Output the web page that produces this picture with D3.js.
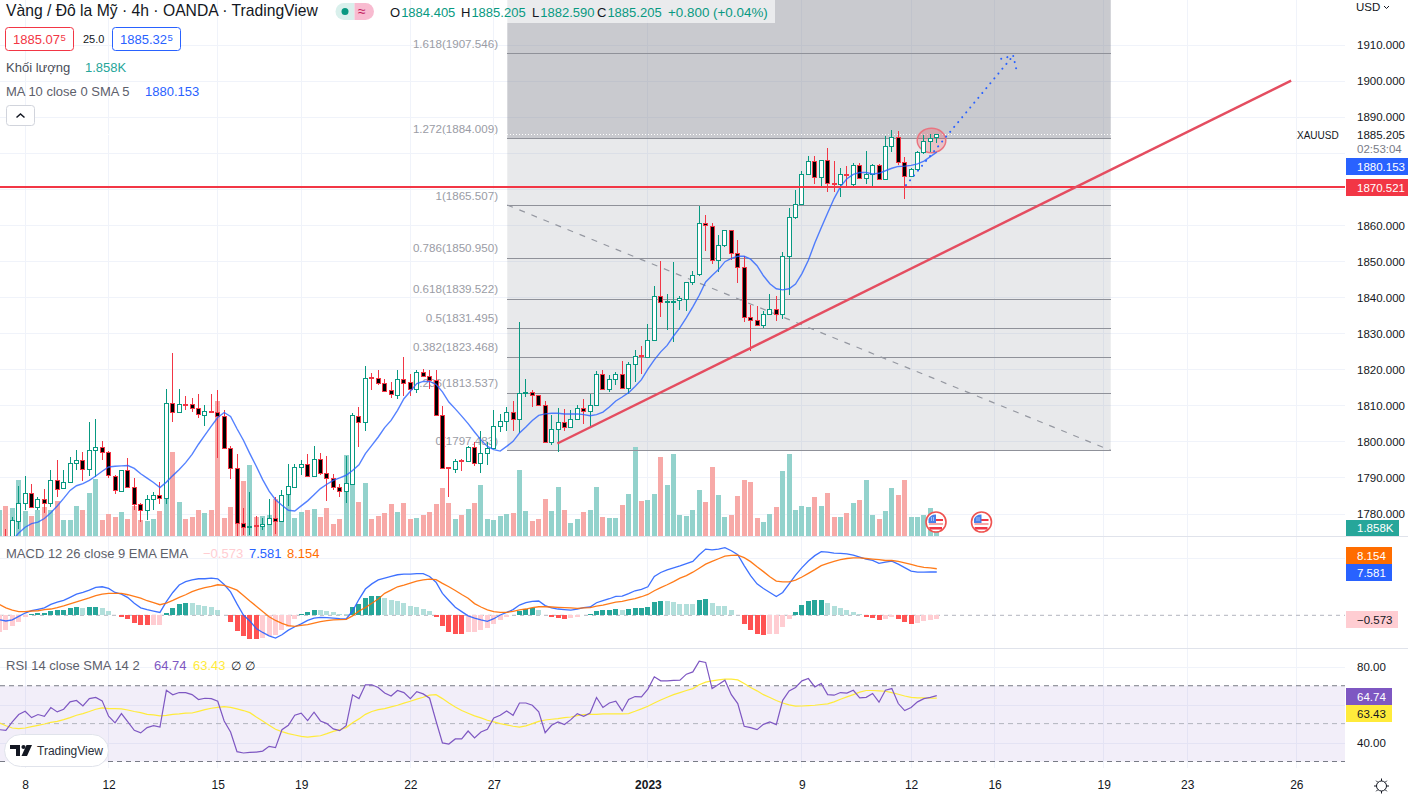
<!DOCTYPE html>
<html>
<head>
<meta charset="utf-8">
<title>XAUUSD 4h</title>
<script src="https://cdn.jsdelivr.net/npm/d3@7"></script>
<style>
  html, body { margin: 0; padding: 0; background: #fff; overflow: hidden; }
  svg { display: block; font-family: "Liberation Sans", Arial, sans-serif; }
  .axis text { fill: #131722; font-size: 11.5px; font-family: "Liberation Sans", Arial, sans-serif; }
  .time text { font-size: 12px; }
</style>
</head>
<body>
<div id="viz"></div>
<script>
// candles
const opens = [
  1771,1773,1773.5,1778.1,1783,1785.8,1781.8,1784.1,1782.9,1789.4,
  1786.9,1788.7,1794.1,1794.9,1792.4,1797.7,1798.5,1797,1790.5,1786.4,
  1792.1,1787.3,1782.7,1781,1784.1,1785.2,1784.4,1810.7,1808.1,1810.4,
  1810.4,1809.2,1807.4,1808.5,1808.2,1807.1,1798.2,1792.7,1777.4,1776.4,
  1776.7,1776.6,1777.2,1778.8,1778,1785.2,1787.5,1793,1793.8,1790.5,
  1795.2,1791.3,1789.9,1787.4,1786.2,1788.2,1807.1,1805.4,1817.7,1817.6,
  1816.2,1814.1,1812.9,1817.4,1816.4,1814.4,1819.2,1818.1,1816.9,1807.3,
  1792.8,1792.4,1794.8,1794.6,1798.5,1794.1,1796.8,1798.2,1804.3,1805.7,
  1808.2,1806.2,1813.4,1813.7,1812.8,1810.1,1799.9,1803.4,1805.3,1804,
  1806.3,1809.3,1808.4,1810.1,1818.7,1814.5,1817.4,1818.7,1814.8,1821.5,
  1823.8,1823.6,1828.2,1840.4,1838.6,1838.8,1839,1839.6,1844.3,1846.2,
  1860.4,1859.8,1850.4,1854.5,1858.7,1852.3,1848.4,1834.6,1833.7,1832.4,
  1835.4,1836.8,1835.4,1851.5,1862.1,1865.8,1874.1,1877.7,1873.2,1878,
  1871.7,1871.4,1874.1,1871.3,1876.6,1872.9,1874.1,1876.6,1872.8,1881.9,
  1884.4,1877.4,1873.5,1875.5,1880.2,1883.3,1884.405];
const highs = [
  1773,1775.8,1779,1787.5,1790.3,1788.1,1784.6,1786.9,1792,1794.7,
  1792,1795.7,1797.5,1797,1805.5,1806.1,1800,1797.3,1790.6,1792.1,
  1795.4,1789.9,1783,1785,1786,1788.7,1814.4,1824.5,1814.4,1812.5,
  1812,1813,1810.2,1813,1814.1,1808.6,1798.6,1796.4,1781.5,1785.9,
  1779.2,1778.7,1783.9,1784.7,1786.4,1793.6,1793.8,1794.9,1796.6,1798.6,
  1796.9,1795.8,1791,1788.1,1795.8,1807.8,1809.5,1821,1818.9,1819.7,
  1817.3,1816.4,1819.7,1823.5,1818.7,1819.7,1820.1,1819.7,1819.7,1809.7,
  1793,1795.2,1795,1798.8,1799.8,1803,1799.8,1808.8,1807.6,1809.5,
  1811.3,1833.2,1817.4,1814.3,1812.8,1811.3,1807.2,1809.3,1809,1808.6,
  1810,1811.8,1813.2,1819.5,1819.8,1818.3,1819.2,1822.2,1822,1825.2,
  1826.3,1832.4,1843,1849.9,1840.9,1849.6,1840.2,1844.3,1847.1,1865.3,
  1862.7,1860.6,1857.1,1858.7,1858.7,1855.7,1851.3,1837.9,1837.4,1836.1,
  1840.8,1840.4,1852.4,1864.8,1869.8,1875,1879.2,1879.2,1878.1,1881.4,
  1877.8,1875.8,1876.4,1877.2,1877.2,1880.6,1876.9,1877,1884.5,1886.4,
  1885.9,1878.8,1875.8,1880.6,1885,1885.2,1885.205];
const lows = [
  1768,1770,1770,1775.8,1780.9,1781.5,1781.1,1780.2,1781.8,1784.6,
  1786.7,1788.4,1792,1788.9,1790.3,1790.1,1794.7,1789.8,1785.3,1786,
  1787.3,1780.9,1777.6,1778.1,1781,1782.7,1782.5,1805.4,1807.9,1808.6,
  1808.1,1806.5,1804.2,1807.9,1795.4,1798,1789.6,1773,1774,1774,
  1773.5,1775.3,1776.7,1774.2,1777.6,1782,1787.3,1790.8,1790.1,1790.3,
  1790.8,1783.6,1786.4,1784.6,1783,1788,1798.4,1802.8,1814.1,1815.5,
  1813.7,1812,1811.6,1812.7,1812.5,1813.4,1818.1,1814.6,1806.9,1792.7,
  1784.7,1791.2,1791.8,1794.5,1793.1,1791.2,1793.4,1797.9,1802.6,1803,
  1803,1802.3,1812.3,1809.5,1810,1799.6,1798.9,1797,1802.8,1804,
  1806.2,1804.7,1804.1,1810,1814.1,1813.7,1815.5,1814.7,1813.2,1816.4,
  1818.6,1823.4,1828.2,1834.5,1831,1827.6,1836.3,1836.1,1843.3,1845.8,
  1852.7,1849.1,1847,1853.9,1850.4,1843.9,1833.1,1825.1,1831.9,1831.3,
  1835.4,1833.4,1834,1840.6,1861.7,1865.4,1874,1871.2,1870.3,1869,
  1869,1867.7,1870.4,1870.4,1872.8,1871.2,1870.6,1872.4,1872.5,1880.1,
  1876.5,1867.2,1873.4,1875.4,1879.7,1880.1,1882.59];
const closes = [
  1772,1772,1778.1,1783,1785.8,1782,1784.1,1783,1789.4,1786.9,
  1788.7,1794.1,1794.9,1792.4,1797.7,1798.5,1797.1,1790.6,1786.6,1792.1,
  1787.3,1782.7,1781,1784.1,1785.2,1784.4,1810.7,1808.1,1810.4,1810.2,
  1809.2,1807.4,1808.5,1808.1,1807.1,1798.2,1792.7,1777.4,1776.4,1776.6,
  1776.5,1777.2,1778.8,1778,1785.2,1787.5,1793,1793.8,1790.5,1795.2,
  1791.3,1789.9,1787.4,1786.2,1788.5,1807.2,1805.4,1817.6,1817.4,1816.2,
  1814.1,1812.9,1817.4,1816.4,1814.4,1819.2,1818.1,1816.9,1807.3,1792.7,
  1792.6,1794.6,1794.6,1798.5,1794.1,1796.8,1798.2,1804.3,1805.7,1808.2,
  1806.2,1813.5,1813.7,1812.8,1810.1,1799.9,1803.4,1805.3,1804,1806.3,
  1809.3,1808.4,1810.1,1818.7,1814.5,1817.4,1818.7,1814.8,1821.5,1823.6,
  1823.6,1828.2,1840.4,1838.7,1838.8,1839,1839.6,1844.3,1846.2,1860.4,
  1859.8,1850.4,1854.5,1858.7,1852.3,1848.4,1834.6,1833.7,1832.4,1835.4,
  1836.8,1835.4,1851.5,1862.3,1865.8,1874.1,1877.7,1873.2,1878,1871.6,
  1871.5,1874.1,1873.9,1876.6,1872.9,1874.1,1876.6,1872.8,1881.9,1884.4,
  1877.4,1873.5,1875.5,1880.2,1883.3,1884,1885.205];

// volume in thousands
const volumes = [
  6.0,7.0,6.5,13.0,5.8,4.6,6.0,6.7,6.0,8.1,
  3.7,3.7,7.0,6.0,10.0,13.2,3.7,5.1,4.4,5.6,
  3.9,7.0,3.7,3.5,3.9,5.8,9.9,19.5,7.9,3.9,
  4.4,6.0,5.3,6.0,31.3,4.2,6.7,11.5,12.8,16.5,
  4.4,4.6,4.9,8.6,6.3,9.8,4.2,5.6,6.0,6.3,
  4.4,6.5,2.8,3.9,18.8,14.6,7.9,12.3,3.9,4.6,
  5.3,7.4,5.6,7.7,3.9,4.2,4.9,5.6,7.4,11.1,
  7.7,3.9,4.9,6.3,7.7,11.8,3.9,3.7,4.6,5.1,
  5.3,15.3,5.8,3.5,3.9,8.6,5.8,11.4,6.0,3.0,
  3.9,5.6,6.0,11.4,4.4,4.2,4.2,7.2,9.8,20.7,
  8.1,8.4,9.8,18.3,11.8,19.0,4.9,4.6,6.0,10.7,
  7.9,16.0,9.5,4.4,4.9,9.3,13.0,12.5,4.2,3.3,
  5.1,6.7,15.1,19.0,6.0,7.0,6.7,9.1,7.0,10.0,
  4.4,4.4,5.3,7.7,8.4,13.0,4.9,3.9,5.8,11.1,
  9.5,13.0,4.4,4.4,4.9,6.5,1.858];

const maValues = [
  1768,1770,1772.5,1774.6,1776.2,1777.2,1777.6,1778.6,1780.2,1782.1,
  1784.2,1786.4,1787.7,1788.3,1789.2,1790.4,1791.7,1792.9,1793.1,1793.2,
  1793.3,1792.5,1791,1789.8,1788.6,1787.2,1788.7,1790.5,1792.2,1794.1,
  1796.4,1799.2,1801.7,1804.2,1806.6,1808,1806.9,1803.5,1800.3,1796.6,
  1793.1,1789.4,1786.2,1783.8,1782.3,1780.9,1780.7,1782.1,1783.5,1785.2,
  1786.9,1788.1,1789.2,1789.9,1790.6,1791.9,1793.5,1796.6,1798.9,1801.2,
  1803.8,1805.8,1808.6,1811.8,1813.9,1816,1816.6,1816.6,1815.8,1813.7,
  1810.9,1809,1807,1804.9,1802.6,1800.4,1798.6,1797.7,1797.3,1798.6,
  1800,1802.3,1804,1805.8,1807.2,1807.6,1807.8,1807.8,1807.6,1807.6,
  1807.6,1807.4,1807.1,1807.4,1808.1,1809.5,1811.2,1812.3,1813.5,1815.2,
  1817.1,1820,1822.6,1824.8,1826.6,1829.2,1831.5,1834.3,1837.3,1840.5,
  1844.2,1846,1847.6,1849.8,1850.7,1851.3,1851.3,1850.5,1848.7,1845.9,
  1843.7,1842.3,1842,1842.3,1843.6,1846.5,1850.2,1855,1859.2,1863.3,
  1867.3,1870.6,1872.8,1874,1874.5,1874.5,1874.1,1874.3,1875,1875.7,
  1876.2,1876.3,1876.5,1876.9,1877.7,1878.9,1880.153];

const macdLine = [
  -0.8,-1.0,-0.8,-0.2,0.4,0.8,1.05,1.3,1.9,2.3,
  2.6,3.15,3.7,4.0,4.4,4.9,5.0,4.7,4.0,3.7,
  3.1,2.1,1.3,1.0,0.75,0.5,2.4,4.0,5.3,5.9,
  6.2,6.4,6.4,6.5,6.4,5.4,4.1,2.0,0.05,-1.0,
  -2.3,-3.0,-3.6,-4.0,-3.4,-2.6,-2.0,-1.5,-0.9,-0.5,
  -0.35,-0.4,-0.5,-0.6,-0.65,0.75,2.8,4.6,5.5,6.2,
  6.5,6.8,7.1,7.2,7.2,7.3,7.3,6.8,5.8,3.85,
  2.6,1.4,0.65,-0.1,-0.5,-0.8,-1.05,-0.6,0.05,0.5,
  1.0,1.8,2.2,2.45,2.5,1.7,1.3,1.1,1.0,0.9,
  1.1,1.35,1.45,2.2,2.55,2.9,3.3,3.35,3.8,4.3,
  4.55,5.0,6.8,7.5,7.95,8.3,8.65,9.05,9.45,10.6,
  11.6,11.45,11.6,11.85,11.3,10.6,8.7,6.95,5.5,4.7,
  4.0,3.3,4.0,5.5,7.05,8.35,9.5,10.45,11.15,11.05,
  10.9,10.85,10.75,10.55,10.2,9.85,9.6,9.1,9.3,9.5,
  8.95,8.35,7.75,7.55,7.55,7.6,7.581];
const signalLine = [
  1.9,1.3,0.9,0.65,0.65,0.75,0.8,1.0,1.1,1.35,
  1.65,2.0,2.35,2.7,3.05,3.45,3.7,3.85,3.85,3.85,
  3.6,3.3,3.0,2.55,2.2,1.85,2.15,2.6,3.15,3.6,
  4.15,4.55,4.85,5.05,5.35,5.25,4.85,4.4,3.45,2.5,
  1.6,0.65,-0.25,-0.9,-1.4,-1.8,-1.95,-1.75,-1.65,-1.35,
  -1.1,-0.95,-0.8,-0.75,-0.7,-0.1,0.75,1.35,2.1,2.85,
  3.85,4.4,5.0,5.3,5.65,6.0,6.2,6.35,6.25,5.6,
  5.0,4.35,3.65,3.0,2.05,1.45,0.95,0.65,0.5,0.5,
  0.7,0.95,1.1,1.35,1.5,1.5,1.45,1.4,1.35,1.3,
  1.2,1.3,1.35,1.6,1.8,2.05,2.3,2.45,2.7,2.9,
  3.25,3.65,4.3,4.85,5.35,5.9,6.5,6.95,7.55,8.25,
  8.95,9.45,9.9,10.35,10.5,10.55,10.1,9.4,8.5,7.65,
  6.75,6.0,5.85,5.85,6.15,6.7,7.35,8.0,8.7,9.1,
  9.45,9.75,9.95,10.05,10.05,9.95,9.85,9.75,9.6,9.6,
  9.45,9.2,8.9,8.6,8.4,8.3,8.154];
const macdHist = [
  -2.85,-2.55,-1.85,-1.15,-0.3,0.2,0.4,0.45,0.8,0.95,
  1.0,1.35,1.45,1.35,1.45,1.5,1.3,0.75,0.05,-0.25,
  -0.65,-1.35,-1.7,-1.75,-1.65,-1.65,0.45,1.3,2.0,2.15,
  2.1,1.8,1.65,1.45,0.95,0.05,-1.15,-2.75,-3.7,-4.15,
  -4.2,-3.9,-3.55,-3.45,-2.5,-2.05,-0.65,0.25,0.6,0.95,
  0.95,0.7,0.6,0.25,0.25,1.45,2.05,3.05,3.4,3.45,
  3.05,2.7,2.5,2.15,1.65,1.45,1.1,0.75,-0.3,-1.85,
  -2.9,-3.25,-3.3,-3.0,-2.9,-2.55,-2.2,-1.45,-0.8,-0.3,
  0.05,0.7,1.1,1.2,0.95,0.05,-0.35,-0.45,-0.65,-0.45,
  -0.3,0.05,0.25,0.75,0.95,1.0,1.1,0.95,1.1,1.3,
  1.35,1.45,2.35,2.5,2.5,2.35,2.0,2.0,2.0,2.7,
  2.85,2.15,1.65,1.65,0.95,0.05,-1.5,-2.55,-3.25,-3.45,
  -3.25,-3.25,-2.05,-0.65,0.6,1.8,2.5,2.7,2.75,2.15,
  1.65,1.3,0.95,0.6,0.25,-0.3,-0.45,-0.8,-0.65,-0.25,
  -0.65,-1.15,-1.5,-1.35,-1.0,-0.8,-0.573];

const rsiLine = [
  46.8,46.5,50.9,54.8,56.5,53.2,54.8,53.9,58.5,56.2,
  57.6,61.5,62.2,59.3,63.2,63.8,62,53.9,50.4,55.3,
  50.9,46.5,45.1,47.9,48.9,48.2,67.6,65.2,66.4,66.4,
  65.3,62.7,63.4,63.2,61.8,51.4,45.6,35.2,34.5,34.8,
  35,35.5,38,37.3,46.8,49.1,54.4,55.5,51.6,56,
  51.4,50,47.2,46.3,48.9,65.2,63.2,70.5,70.5,69.1,
  66.2,64.6,67.5,66.4,63.2,66.9,65.7,63.4,51.4,39.8,
  39.2,41.9,41.9,46.1,42.4,45.6,47,53,54.4,56.7,
  54.4,60.9,60.9,59.7,56.2,45.2,49.1,50.9,49.5,52.1,
  55.3,53.9,55.6,63.8,58.5,60.9,61.8,56.7,62.7,64.3,
  64.1,68.2,74.7,72.6,72.6,72.8,72.9,76.1,77.3,83,
  82.3,68.5,70.6,72.9,65.3,60.6,48.6,47.9,46.8,49.6,
  50.9,49.5,62.3,67.3,69.1,72.6,73.8,69.4,71.2,65.3,
  65,66.4,66.1,67.6,63.6,63.9,65.9,61.3,67.6,68.5,
  60.6,56.9,58.5,61.5,63.2,63.9,64.74];
const rsiMa = [
  50.4,48.9,47.7,47.4,47.7,48.4,49.1,49.8,50.7,51.2,
  52.1,53.2,54.4,55.3,56.4,57.6,58.3,57.9,57.9,57.8,
  57.2,56.4,55.8,54.9,54.6,54.1,54.4,54.9,55.1,55.5,
  55.6,56.5,57.4,58.1,58.6,59,58.6,57.8,56.9,55.8,
  53.5,51.4,49.1,47,45.8,44.7,44,43.3,42.9,43.3,
  43.6,44.7,45.9,46.8,47.9,50.4,52.5,54.9,56.4,57.4,
  57.9,58.8,59.7,60.8,61.8,62.9,63.9,65,65.3,63.2,
  60.9,58.8,56.9,55.5,54.1,53,51.8,50.9,50,49.3,
  48.6,48.2,48.8,50,51.2,51.9,52.3,52.6,53.2,53.5,
  54.2,54.8,54.9,54.9,55.1,55.1,55.1,55.1,55.3,56.5,
  57.8,59.2,60.9,62.5,63.9,65.3,66.4,67.5,68.5,70.5,
  71.9,72.6,73.1,73.5,73.5,73.1,71.2,69.1,67.3,65.3,
  63.8,62.2,60.9,59.9,59.2,59.3,59.5,59.7,60.1,60.4,
  61.5,62.9,64.1,65.3,66.6,67.5,67.5,67.3,67.1,66.4,
  65.5,64.6,63.9,63.6,63.6,63.4,63.43];

// fibonacci tool
const fibRatios = [1.618, 1.272, 1, 0.786, 0.618, 0.5, 0.382, 0.236, 0];
const fibPrices = [1907.546, 1884.009, 1865.507, 1850.95, 1839.522, 1831.495, 1823.468, 1813.537, 1797.483];
const fibBars = [79.1, 173.1];
const trendBars = [86.9, 201.2];
const trendPrices = [1799.4, 1900];
const arrowBars = [141.2, 157.9];
const arrowPrices = [1871, 1906.9];
const hLinePrice = 1870.521;
const lastPrice = 1885.205;

// axis ticks
const priceTicks = [1910, 1900, 1890, 1860, 1850, 1840, 1830, 1820, 1810, 1800, 1790, 1780];
const priceGrid = d3.range(1780, 1911, 10);
const timeBars = [4, 17, 34, 47, 64, 77, 101, 125, 142, 155, 172, 185, 202];
const timeLabels = ['8', '12', '15', '19', '22', '27', '2023', '9', '12', '16', '19', '23', '26'];

[opens, highs, lows, closes, volumes, maValues, macdLine, signalLine, macdHist, rsiLine, rsiMa].forEach((a, k) => {
  if (a.length !== 147) throw new Error('array ' + k + ' has ' + a.length);
});

const W = 1408, H = 796, chartR = 1345;
const mainB = 536, macdT = 537, macdB = 648, rsiT = 649, rsiB = 768;

const GREEN = '#089981', RED = '#f23645', BLUE = '#2962ff', ORANGE = '#ff6d00',
  PURPLE = '#7e57c2', YELLOW = '#ffeb3b', TEXT = '#131722', GREY = '#787b86';

const x = d3.scaleLinear().domain([0, 146]).range([-0.54, 936.78]);
const y = d3.scaleLinear().domain([1780, 1910]).range([513.5, 44.5]);
const v = d3.scaleLinear().domain([0, 31.3]).range([mainB, 401]);
const m = d3.scaleLinear().domain([0, 10]).range([615.3, 558.2]);
const r = d3.scaleLinear().domain([30, 80]).range([761.5, 666.8]);
const col = i => Math.floor(x(i));

const svg = d3.select('#viz').append('svg').attr('width', W).attr('height', H);

const defs = svg.append('defs');
defs.append('clipPath').attr('id', 'clipMain').append('rect').attr('width', chartR).attr('height', mainB);
defs.append('clipPath').attr('id', 'clipMacd').append('rect').attr('y', macdT).attr('width', chartR).attr('height', macdB - macdT);
defs.append('clipPath').attr('id', 'clipRsi').append('rect').attr('y', rsiT).attr('width', chartR).attr('height', rsiB - rsiT);

// grid
const gridG = svg.append('g').attr('stroke', '#f0f3fa').attr('shape-rendering', 'crispEdges');
timeBars.forEach(b => {
  gridG.append('line').attr('x1', col(b) + .5).attr('x2', col(b) + .5).attr('y1', 0).attr('y2', rsiB);
});
priceGrid.forEach(p => {
  gridG.append('line').attr('x1', 0).attr('x2', chartR).attr('y1', Math.round(y(p)) + .5).attr('y2', Math.round(y(p)) + .5);
});
[10].forEach(t => gridG.append('line').attr('x1', 0).attr('x2', chartR).attr('y1', Math.round(m(t)) + .5).attr('y2', Math.round(m(t)) + .5));
[80, 60, 40].forEach(t => gridG.append('line').attr('x1', 0).attr('x2', chartR).attr('y1', Math.round(r(t)) + .5).attr('y2', Math.round(r(t)) + .5));

// main pane
const main = svg.append('g').attr('clip-path', 'url(#clipMain)');

// fib zones
const fibX0 = x(fibBars[0]), fibX1 = x(fibBars[1]);
main.append('rect').attr('x', fibX0).attr('width', fibX1 - fibX0).attr('y', 0).attr('height', y(fibPrices[1]))
  .attr('fill', 'rgba(120,123,134,0.4)');
main.append('rect').attr('x', fibX0).attr('width', fibX1 - fibX0).attr('y', y(fibPrices[1])).attr('height', y(fibPrices[8]) - y(fibPrices[1]))
  .attr('fill', 'rgba(120,123,134,0.17)');

// fib labels sit under the candles
fibRatios.forEach((f, k) => {
  main.append('text').attr('x', 498).attr('y', y(fibPrices[k]) - 5.5).attr('text-anchor', 'end')
    .attr('font-size', 11.6).attr('fill', '#9a9ca5').text(f + '(' + fibPrices[k].toFixed(3) + ')');
});

// volume
main.selectAll('.vol').data(volumes).join('rect').attr('class', 'vol')
  .attr('x', (d, i) => col(i) - 2).attr('width', 5)
  .attr('y', d => v(d)).attr('height', d => mainB - v(d))
  .attr('fill', (d, i) => closes[i] >= opens[i] ? '#93d2cc' : '#f7a9a7')
  .attr('shape-rendering', 'crispEdges');

// fib lines
fibPrices.forEach(p => {
  main.append('line').attr('x1', fibX0).attr('x2', fibX1).attr('y1', Math.round(y(p)) + .5).attr('y2', Math.round(y(p)) + .5)
    .attr('stroke', '#8f9199').attr('shape-rendering', 'crispEdges');
});
// fib diagonal
main.append('line').attr('x1', fibX0).attr('x2', fibX1).attr('y1', y(fibPrices[2])).attr('y2', y(fibPrices[8]))
  .attr('stroke', '#9598a1').attr('stroke-width', 1.2).attr('stroke-dasharray', '6 7');
// last price dotted
main.append('line').attr('x1', 0).attr('x2', chartR).attr('y1', Math.round(y(lastPrice)) + .5).attr('y2', Math.round(y(lastPrice)) + .5)
  .attr('stroke', '#fff').attr('stroke-dasharray', '1 2').attr('shape-rendering', 'crispEdges');

// ellipse mark
main.append('ellipse').attr('cx', 931.5).attr('cy', 140.5).attr('rx', 14.3).attr('ry', 12.2)
  .attr('fill', 'rgba(242,54,69,0.22)').attr('stroke', '#ea7480').attr('stroke-width', 1.5);

// candles
const candles = main.selectAll('.candle').data(opens).join('g').attr('class', 'candle').attr('shape-rendering', 'crispEdges');
candles.append('rect').attr('x', (d, i) => col(i)).attr('width', 1)
  .attr('y', (d, i) => y(highs[i])).attr('height', (d, i) => y(lows[i]) - y(highs[i]))
  .attr('fill', (d, i) => closes[i] >= opens[i] ? GREEN : RED);
candles.append('rect').attr('x', (d, i) => col(i) - 1.5).attr('width', 4)
  .attr('y', (d, i) => Math.round(y(Math.max(opens[i], closes[i]))) + .5)
  .attr('height', (d, i) => Math.max(1, Math.round(Math.abs(y(opens[i]) - y(closes[i])))))
  .attr('fill', (d, i) => closes[i] >= opens[i] ? '#fff' : '#000')
  .attr('stroke', (d, i) => closes[i] >= opens[i] ? GREEN : RED);

// moving average
const lineOf = (xs, ys) => d3.line().x((d, i) => x(i)).y(d => ys(d))(xs);
main.append('path').attr('d', lineOf(maValues, y)).attr('fill', 'none').attr('stroke', BLUE).attr('stroke-width', 1.4).attr('opacity', .8);

// horizontal level and trend line
main.append('line').attr('x1', 0).attr('x2', chartR).attr('y1', y(hLinePrice)).attr('y2', y(hLinePrice))
  .attr('stroke', RED).attr('stroke-width', 2);
main.append('line').attr('x1', x(trendBars[0])).attr('x2', x(trendBars[1])).attr('y1', y(trendPrices[0])).attr('y2', y(trendPrices[1]))
  .attr('stroke', '#e44d60').attr('stroke-width', 2.4);

// dotted arrow
const ax0 = x(arrowBars[0]), ay0 = y(arrowPrices[0]), ax1 = x(arrowBars[1]), ay1 = y(arrowPrices[1]);
main.append('path').attr('d', `M${ax0},${ay0}L${ax1},${ay1}M${ax1 - 12},${ay1 + 3}L${ax1},${ay1}L${ax1 + 3},${ay1 + 13}`)
  .attr('fill', 'none').attr('stroke', BLUE).attr('stroke-width', 2).attr('stroke-dasharray', '0.1 6.2').attr('stroke-linecap', 'round');

// earnings flags
function flag(cx, cy) {
  const g = svg.append('g').attr('transform', `translate(${cx},${cy})`);
  g.append('circle').attr('r', 10).attr('fill', '#fff').attr('stroke', '#ef5350').attr('stroke-width', 1.6);
  g.append('path').attr('d', 'M-7,-3H7V-1H-7ZM-7,5H6V7.4H-6Z').attr('fill', '#f23645');
  g.append('path').attr('d', 'M-7,1H7V3H-7Z').attr('fill', '#f7a9a7');
  g.append('path').attr('d', 'M-7.5,-3A7.6,7.6 0 0 1 0,-7.5V1H-7.5Z').attr('fill', '#4a7fe8');
  g.append('path').attr('d', 'M-5,-4H-1M-5,-2H-1').attr('stroke', '#fff').attr('stroke-dasharray', '1 1');
}
flag(936, 522);
flag(981.5, 522);

// pane separators
[mainB, macdB].forEach(s => {
  svg.append('line').attr('x1', 0).attr('x2', W).attr('y1', s + .5).attr('y2', s + .5).attr('stroke', '#e0e3eb');
});

// MACD pane
const macd = svg.append('g').attr('clip-path', 'url(#clipMacd)');
macd.append('line').attr('x1', 0).attr('x2', chartR).attr('y1', m(0)).attr('y2', m(0))
  .attr('stroke', '#b2b5be').attr('stroke-dasharray', '4 4');
function histColor(d, i) {
  const prev = i > 0 ? macdHist[i - 1] : d;
  if (d >= 0) return d > prev ? '#26a69a' : '#b2dfdb';
  return d < prev ? '#ff5252' : '#ffcdd2';
}
macd.selectAll('.hist').data(macdHist).join('rect').attr('class', 'hist')
  .attr('x', (d, i) => col(i) - 2).attr('width', 5)
  .attr('y', d => Math.min(m(d), m(0)))
  .attr('height', d => Math.abs(m(d) - m(0)))
  .attr('fill', histColor).attr('shape-rendering', 'crispEdges');
macd.append('path').attr('d', lineOf(macdLine, m)).attr('fill', 'none').attr('stroke', BLUE).attr('stroke-width', 1.3).attr('opacity', .9);
macd.append('path').attr('d', lineOf(signalLine, m)).attr('fill', 'none').attr('stroke', ORANGE).attr('stroke-width', 1.3).attr('opacity', .9);

// RSI pane
const rsi = svg.append('g').attr('clip-path', 'url(#clipRsi)');
rsi.append('rect').attr('x', 0).attr('width', chartR).attr('y', r(70)).attr('height', r(30) - r(70)).attr('fill', 'rgba(126,87,194,0.1)');
[[70, GREY], [50, '#b2b5be'], [30, GREY]].forEach(([t, c]) => {
  rsi.append('line').attr('x1', 0).attr('x2', chartR).attr('y1', r(t)).attr('y2', r(t)).attr('stroke', c).attr('stroke-dasharray', '5 4');
});
rsi.append('path').attr('d', lineOf(rsiMa, r)).attr('fill', 'none').attr('stroke', YELLOW).attr('stroke-width', 1.2);
rsi.append('path').attr('d', lineOf(rsiLine, r)).attr('fill', 'none').attr('stroke', PURPLE).attr('stroke-width', 1.2);

// axes
const priceAxis = svg.append('g').attr('class', 'axis').attr('transform', `translate(${chartR},0.5)`)
  .call(d3.axisRight(y).tickValues(priceTicks).tickFormat(d3.format('.3f')).tickSize(0).tickPadding(12));
const rsiAxis = svg.append('g').attr('class', 'axis').attr('transform', `translate(${chartR},0)`)
  .call(d3.axisRight(r).tickValues([80, 40]).tickFormat(d3.format('.2f')).tickSize(0).tickPadding(12));
const timeAxis = svg.append('g').attr('class', 'axis time').attr('transform', `translate(0,${rsiB})`)
  .call(d3.axisBottom(x).tickValues(timeBars).tickFormat((d, i) => timeLabels[i]).tickSize(0).tickPadding(12));
priceAxis.select('.domain').remove();
rsiAxis.select('.domain').remove();
timeAxis.select('.domain').remove();
timeAxis.selectAll('text').filter((d, i) => timeLabels[i] === '2023').attr('font-weight', 'bold');

function txt(tx, ty, s, size, fill) {
  return svg.append('text').attr('x', tx).attr('y', ty).attr('font-size', size).attr('fill', fill).text(s);
}
function tag(y0, h, w, fill, s, color) {
  svg.append('rect').attr('x', 1346).attr('y', y0).attr('width', w).attr('height', h).attr('fill', fill);
  txt(1357, y0 + h / 2 + 4.2, s, 11.5, color);
}

// price tags
txt(1297, 139, 'XAUUSD', 10, TEXT);
txt(1357, 138.5, '1885.205', 11.5, TEXT);
txt(1357, 152.5, '02:53:04', 11.5, GREY);
tag(158, 17, 62, BLUE, '1880.153', '#fff');
tag(179, 17, 62, RED, '1870.521', '#fff');
tag(520, 16, 53, '#26a69a', '1.858K', '#fff');
tag(547, 17, 46, ORANGE, '8.154', '#fff');
tag(564, 17, 46, BLUE, '7.581', '#fff');
tag(611, 17, 52, '#ffcdd2', '\u22120.573', TEXT);
tag(688, 17, 46, PURPLE, '64.74', '#fff');
tag(705, 17, 46, YELLOW, '63.43', TEXT);

// top right currency
txt(1356, 11, 'USD', 11.5, TEXT);
svg.append('path').attr('d', 'M1384,6l2.5,2.5l2.5,-2.5').attr('fill', 'none').attr('stroke', TEXT);

// settings icon
const sun = svg.append('g').attr('transform', 'translate(1381.5,786)').attr('stroke', TEXT).attr('fill', 'none');
sun.append('circle').attr('r', 5);
d3.range(8).forEach(k => {
  const a = k * Math.PI / 4;
  sun.append('line').attr('x1', 5 * Math.cos(a)).attr('y1', 5 * Math.sin(a)).attr('x2', 7.5 * Math.cos(a)).attr('y2', 7.5 * Math.sin(a));
});

// header
svg.append('rect').attr('x', 507).attr('y', 0).attr('width', 268).attr('height', 23).attr('fill', 'rgba(255,255,255,0.62)');
txt(6, 16, 'Vàng / Đô la Mỹ · 4h · OANDA · TradingView', 15.7, TEXT);
svg.append('path').attr('d', 'M344,3H354.5V20H344a8.5,8.5 0 0 1 0,-17Z').attr('fill', '#d9f0ec');
svg.append('path').attr('d', 'M354.5,3H365.5a8.5,8.5 0 0 1 0,17H354.5Z').attr('fill', '#f8bbd0');
svg.append('circle').attr('cx', 345).attr('cy', 11.5).attr('r', 3.5).attr('fill', GREEN);
txt(358, 16, '≈', 14, '#c2185b');
const ohlc = [['O', '1884.405', 390], ['H', '1885.205', 461], ['L', '1882.590', 532], ['C', '1885.205', 597]];
ohlc.forEach(([k, val, ox]) => {
  const t = txt(ox, 17, k, 13, TEXT);
  const w = t.node().getComputedTextLength();
  txt(ox + w + 1, 17, val, 13, GREEN);
});
txt(668, 17, '+0.800 (+0.04%)', 13.4, GREEN);

function quoteBox(bx, color, main5, small) {
  svg.append('rect').attr('x', bx + .5).attr('y', 27.5).attr('width', 68).attr('height', 23).attr('rx', 3).attr('fill', '#fff').attr('stroke', color);
  txt(bx + 8, 44, main5, 13, color);
  txt(bx + 55.5, 41, small, 9.5, color);
}
quoteBox(5, RED, '1885.07', '5');
quoteBox(112, BLUE, '1885.32', '5');
txt(83, 43, '25.0', 11, TEXT);

txt(6, 72, 'Khối lượng', 13, '#4a4e59');
txt(85, 72, '1.858K', 13, '#26a69a');
txt(6, 96, 'MA 10 close 0 SMA 5', 13, '#5d606b');
txt(145, 96, '1880.153', 13, BLUE);
svg.append('rect').attr('x', 6.5).attr('y', 105.5).attr('width', 28).attr('height', 20).attr('rx', 3).attr('fill', '#fff').attr('stroke', '#d1d4dc');
svg.append('path').attr('d', 'M16.5,117.5l4,-3.5l4,3.5').attr('fill', 'none').attr('stroke', TEXT).attr('stroke-width', 1.5);

txt(6, 558, 'MACD 12 26 close 9 EMA EMA', 13, '#5d606b');
txt(203, 558, '\u22120.573', 13, '#ffcdd2');
txt(249, 558, '7.581', 13, BLUE);
txt(287, 558, '8.154', 13, ORANGE);

txt(6, 670, 'RSI 14 close SMA 14 2', 13, '#5d606b');
txt(154, 670, '64.74', 13, PURPLE);
txt(193, 670, '63.43', 13, YELLOW);
txt(231, 670, '∅', 12, TEXT);
txt(245, 670, '∅', 12, TEXT);

// logo badge
svg.append('rect').attr('x', 4.5).attr('y', 734.5).attr('width', 104).attr('height', 32).attr('rx', 16).attr('fill', '#fff').attr('stroke', '#e0e3eb');
svg.append('path').attr('d', 'M10,745H20V756H16V749H10Z').attr('fill', '#131722');
svg.append('circle').attr('cx', 23.5).attr('cy', 747).attr('r', 2.1).attr('fill', '#131722');
svg.append('path').attr('d', 'M26.5,745H32L27,756H21.5Z').attr('fill', '#131722');
txt(37, 755, 'TradingView', 12, '#2a2e39');
</script>
</body>
</html>
